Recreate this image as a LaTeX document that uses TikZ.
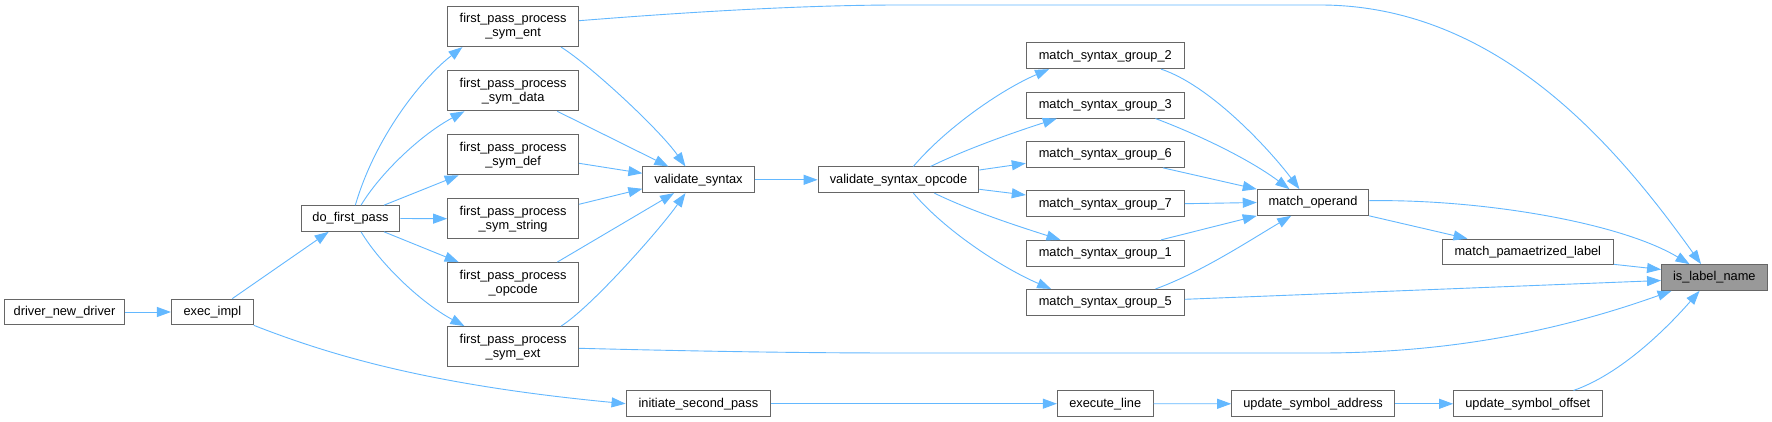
\documentclass[tikz,border=0pt]{standalone}
\usepackage{fontspec}
\setmainfont{Liberation Sans}
\usetikzlibrary{arrows.meta}
\definecolor{edgeblue}{HTML}{63B8FF}
\definecolor{boxgray}{HTML}{666666}
\definecolor{hlgray}{HTML}{999999}
\begin{document}
\begin{tikzpicture}[x=1pt,y=-1pt,
  fn/.style={draw=boxgray, line width=1pt, fill=white, inner sep=0pt, align=center,
    font=\fontsize{12.8}{14}\selectfont, text=black},
  one/.style={fn, minimum height=25.7pt},
  two/.style={fn, minimum height=40.2pt, minimum width=130.9pt},
  call/.style={draw=edgeblue, line width=0.9pt, -{Triangle[length=14pt,width=10pt]}}]
\fill[white] (0,0) rectangle (1772,422);
\useasboundingbox (0,0) rectangle (1772,422);

% nodes
\node[one, minimum width=119.8pt] (dnd)  at (64.5,312)   {driver\_new\_driver};
\node[one, minimum width=81.9pt]  (exec) at (212.4,312)  {exec\_impl};
\node[one, minimum width=98.7pt]  (dfp)  at (350.5,218.5) {do\_first\_pass};
\node[two] (ent)  at (513.1,26.5)  {first\_pass\_process\\\_sym\_ent};
\node[two] (data) at (513.1,90.7)  {first\_pass\_process\\\_sym\_data};
\node[two] (def)  at (513.1,154.7) {first\_pass\_process\\\_sym\_def};
\node[two] (str)  at (513.1,218.7) {first\_pass\_process\\\_sym\_string};
\node[two] (opc)  at (513.1,282.7) {first\_pass\_process\\\_opcode};
\node[two] (ext)  at (513.1,346.7) {first\_pass\_process\\\_sym\_ext};
\node[one, minimum width=111.3pt] (vs)  at (698.5,179.8) {validate\_syntax};
\node[one, minimum width=160.7pt] (vso) at (898.5,179.8) {validate\_syntax\_opcode};
\node[one, minimum width=158pt] (g2) at (1105.3,55.8)  {match\_syntax\_group\_2};
\node[one, minimum width=158pt] (g3) at (1105.3,105.2) {match\_syntax\_group\_3};
\node[one, minimum width=158pt] (g6) at (1105.3,154.5) {match\_syntax\_group\_6};
\node[one, minimum width=158pt] (g7) at (1105.3,203.7) {match\_syntax\_group\_7};
\node[one, minimum width=158pt] (g1) at (1105.3,253.2) {match\_syntax\_group\_1};
\node[one, minimum width=158pt] (g5) at (1105.3,302.3) {match\_syntax\_group\_5};
\node[one, minimum width=111.5pt] (mo)  at (1313,202.5)  {match\_operand};
\node[one, minimum width=171.2pt] (mpl) at (1527.8,252)  {match\_pamaetrized\_label};
\node[one, minimum width=105.5pt, fill=hlgray] (iln) at (1714.3,277.5) {is\_label\_name};
\node[one, minimum width=144.7pt] (isp) at (698.4,403.7)  {initiate\_second\_pass};
\node[one, minimum width=95.7pt]  (exl) at (1105.2,403.7) {execute\_line};
\node[one, minimum width=162.8pt] (usa) at (1313.1,403.8) {update\_symbol\_address};
\node[one, minimum width=148.4pt] (uso) at (1527.8,403.8) {update\_symbol\_offset};

% edges
\draw[call] (dnd.east) -- (exec.west);
\draw[call] ([xshift=61.3pt]exec.north west) -- ([xshift=28pt]dfp.south west);
\draw[call] (exec.south east) .. controls +(76.7,30) and +(-196,-18.7) .. (isp.west);

\draw[call] ([xshift=54.7pt]dfp.north west) .. controls +(19.1,-65.7) and +(-43,33.3) .. ([xshift=15.3pt]ent.south west);
\draw[call] ([xshift=60.4pt]dfp.north west) .. controls +(18.4,-30.7) and +(-45,24.3) .. ([xshift=17.3pt]data.south west);
\draw[call] ([xshift=83.4pt]dfp.north west) -- ([xshift=11.5pt]def.south west);
\draw[call] (dfp.east) -- (str.west);
\draw[call] ([xshift=83.4pt]dfp.south west) -- ([xshift=11.5pt]opc.north west);
\draw[call] ([xshift=60.4pt]dfp.south west) .. controls +(18.4,30.7) and +(-45,-24.3) .. ([xshift=17.3pt]ext.north west);

\draw[call] ([xshift=-18pt]ent.south east) .. controls +(29.4,18.3) and +(-26,-37) .. ([xshift=43.1pt]vs.north west);
\draw[call] ([xshift=-21.8pt]data.south east) -- ([xshift=26pt]vs.north west);
\draw[call] ([yshift=-8.6pt]def.east) -- ([yshift=6.5pt]vs.west);
\draw[call] ([yshift=14.4pt]str.east) -- ([yshift=-9pt]vs.west);
\draw[call] ([xshift=-21.8pt]opc.north east) -- ([xshift=31.7pt]vs.south west);
\draw[call] ([xshift=-18pt]ext.north east) .. controls +(29.4,-18.3) and +(-26,37) .. ([xshift=43.1pt]vs.south west);

\draw[call] ([yshift=5.8pt]ent.east) .. controls +(100,-8) and +(-100,0) .. (900,5) -- (1320,5)
  .. controls +(180,0) and +(-81.7,-114) .. ([xshift=40pt]iln.north west);
\draw[call] ([yshift=-1.6pt]ext.east) .. controls +(120,3) and +(-100,0) .. (900,353) -- (1320,353)
  .. controls +(130,0) and +(-112,40) .. ([xshift=10.5pt]iln.south west);

\draw[call] (vs.east) -- (vso.west);
\draw[call] ([xshift=95.7pt]vso.north west) .. controls +(31.2,-37) and +(-49.6,21.3) .. ([xshift=23.3pt]g2.south west);
\draw[call] ([xshift=112.9pt]vso.north west) .. controls +(39,-19) and +(-37.3,12) .. ([xshift=31pt]g3.south west);
\draw[call] ([yshift=9.8pt]vso.east) -- ([yshift=-8.8pt]g6.west);
\draw[call] ([yshift=-9.5pt]vso.east) -- ([yshift=8.7pt]g7.west);
\draw[call] ([xshift=116.7pt]vso.south west) .. controls +(39,19) and +(-37.3,-12) .. ([xshift=34.7pt]g1.north west);
\draw[call] ([xshift=95.7pt]vso.south west) .. controls +(31.2,37) and +(-49.6,-21.3) .. ([xshift=25.3pt]g5.north west);

\draw[call] ([xshift=-23.7pt]g2.south east) .. controls +(49.4,16.3) and +(-30,-39.7) .. ([xshift=42.7pt]mo.north west);
\draw[call] ([xshift=-29.3pt]g3.south east) .. controls +(45,17) and +(-40,-29.7) .. ([xshift=32.7pt]mo.north west);
\draw[call] ([xshift=-21.8pt]g6.south east) -- (mo.north west);
\draw[call] (g7.east) -- (mo.west);
\draw[call] ([xshift=-23.7pt]g1.north east) -- (mo.south west);
\draw[call] ([xshift=-29.3pt]g5.north east) .. controls +(45,-16.3) and +(-41.7,24.7) .. ([xshift=34.4pt]mo.south west);
\draw[call] ([yshift=3pt]g5.east) -- ([yshift=-3pt]iln.west);

\draw[call] ([yshift=1.8pt]mo.east) .. controls +(111,-1.7) and +(-70,-42) .. ([xshift=28.5pt]iln.north west);
\draw[call] (mo.south east) -- ([xshift=25.8pt]mpl.north west);
\draw[call] ([yshift=1pt]mpl.south east) -- ([yshift=8pt]iln.west);

\draw[call] (isp.east) -- (exl.west);
\draw[call] (exl.east) -- (usa.west);
\draw[call] (usa.east) -- (uso.west);
\draw[call] ([xshift=120.4pt]uso.north west) .. controls +(46,-16) and +(-35,40) .. ([xshift=38.5pt]iln.south west);
\end{tikzpicture}
\end{document}
